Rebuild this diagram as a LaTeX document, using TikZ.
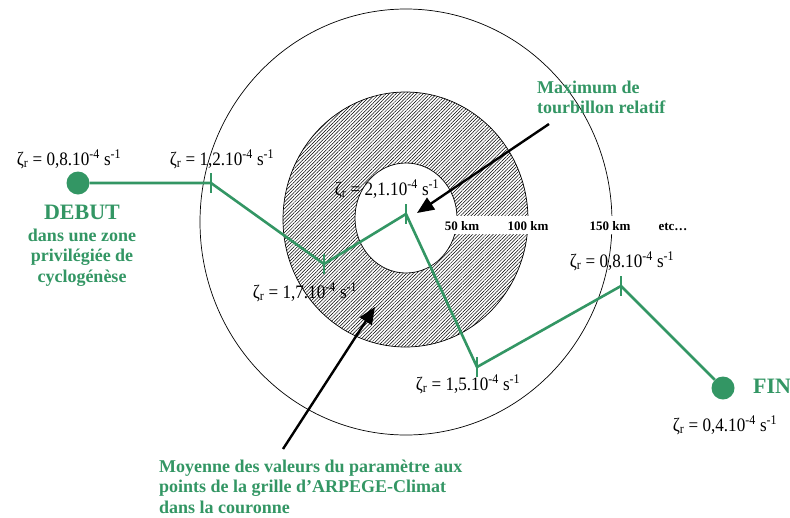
\documentclass[tikz,border=0pt]{standalone}
\usepackage{fontspec}
\setmainfont{Liberation Serif}
\usepackage{tikz}
\usetikzlibrary{arrows.meta, patterns.meta, positioning}
\definecolor{vert}{RGB}{51,150,100}
\tikzstyle{zeta} = [anchor=base, inner sep=0pt, xscale=0.9, font=\fontsize{19}{22}\selectfont]
\tikzstyle{etiq} = [text=vert, inner sep=0pt, font=\bfseries\fontsize{18}{20.5}\selectfont]
\tikzstyle{titre} = [text=vert, inner sep=0pt, font=\bfseries\fontsize{22}{24}\selectfont]
\tikzstyle{dist} = [anchor=base, inner sep=0pt, font=\bfseries\fontsize{13}{15}\selectfont]
\tikzstyle{trajet} = [draw=vert, line width=2.6pt]
\tikzstyle{extremite} = [circle, fill=vert, minimum size=23pt, inner sep=0pt]
\tikzstyle{fleche} = [draw, line width=2.4pt, -{Triangle[length=17pt,width=14pt]}]

\begin{document}
\begin{tikzpicture}[x=1pt, y=-1pt]
    \useasboundingbox (0,0) rectangle (790,517);

    % couronnes
    \draw[line width=0.7pt] (406,222) ellipse [x radius=206pt, y radius=213pt];
    \path[pattern={Lines[angle=45,distance=2.4pt,line width=0.5pt]}, even odd rule]
        (405.5,219.5) ellipse [x radius=122.5pt, y radius=127.5pt]
        (406,218) ellipse [x radius=51pt, y radius=55pt];
    \draw[line width=0.7pt] (405.5,219.5) ellipse [x radius=122.5pt, y radius=127.5pt];
    \draw[line width=0.7pt] (406,218) ellipse [x radius=51pt, y radius=55pt];

    % distances
    \fill[white] (440,216) rectangle (700,234);
    \node[dist] (d50) at (462,230) {50 km};
    \node[dist] (d100) at (528,230) {100 km};
    \node[dist] (d150) at (610,230) {150 km};
    \node[dist] (detc) at (673,230) {etc\dots};

    % trajectoire
    \node[extremite] (debut) at (78,183) {};
    \coordinate (v1) at (211,183);
    \coordinate (v2) at (324,264);
    \coordinate (v3) at (406,214);
    \coordinate (v4) at (477,367);
    \coordinate (v5) at (621,286);
    \node[extremite] (fin) at (723,388) {};

    \draw[trajet] (debut) -- (v1) -- (v2) -- (v3) -- (v4) -- (v5) -- (fin);
    \foreach \p in {v1,v2,v3,v4,v5}
        \draw[trajet] ([yshift=10pt]\p) -- ([yshift=-10pt]\p);

    % valeurs
    \node[zeta] (z1) at (69,165) {ζ\textsubscript{r} = 0,8.10\textsuperscript{-4} s\textsuperscript{-1}};
    \node[zeta] (z2) at (222,165) {ζ\textsubscript{r} = 1,2.10\textsuperscript{-4} s\textsuperscript{-1}};
    \node[zeta] (z3) at (387,195) {ζ\textsubscript{r} = 2,1.10\textsuperscript{-4} s\textsuperscript{-1}};
    \node[zeta] (z4) at (305,298) {ζ\textsubscript{r} = 1,7.10\textsuperscript{-4} s\textsuperscript{-1}};
    \node[zeta] (z5) at (468,390) {ζ\textsubscript{r} = 1,5.10\textsuperscript{-4} s\textsuperscript{-1}};
    \node[zeta] (z6) at (622,267) {ζ\textsubscript{r} = 0,8.10\textsuperscript{-4} s\textsuperscript{-1}};
    \node[zeta] (z7) at (725,431) {ζ\textsubscript{r} = 0,4.10\textsuperscript{-4} s\textsuperscript{-1}};

    % textes
    \node[titre, anchor=base] (tdebut) at (82,219) {DEBUT};
    \node[etiq, align=center, anchor=north] (zone) at (82,228.5) {dans une zone\\privilégiée de\\cyclogénèse};
    \node[titre, anchor=base west] (tfin) at (753,393) {FIN};
    \node[etiq, align=left, anchor=north west] (maxi) at (537,80.7) {Maximum de\\tourbillon relatif};
    \node[etiq, align=left, anchor=north west] (moy) at (159,459.7) {Moyenne des valeurs du paramètre aux\\points de la grille d’ARPEGE-Climat\\dans la couronne};

    % fleches
    \coordinate (q1) at (549,124);
    \coordinate (p1) at (417,213);
    \coordinate (q2) at (283,449);
    \coordinate (p2) at (375,307);
    \draw[fleche] (q1) -- (p1);
    \draw[fleche] (q2) -- (p2);
\end{tikzpicture}
\end{document}
